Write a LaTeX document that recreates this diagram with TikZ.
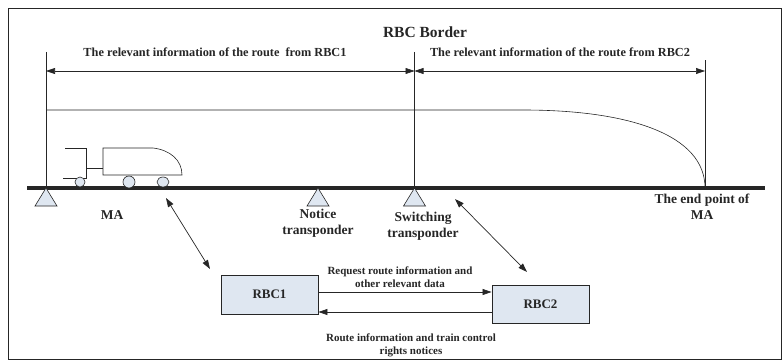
\documentclass[tikz,border=0pt]{standalone}
\usepackage{fontspec}
\setmainfont{Liberation Serif}
\usetikzlibrary{arrows.meta,positioning}

\definecolor{rbcfill}{HTML}{DFE7F1}
\definecolor{ink}{HTML}{262626}

\tikzset{
    lbl/.style={font=\bfseries\fontsize{13.5}{16}\selectfont, text=ink, inner sep=0pt, align=center},
    dimlbl/.style={font=\bfseries\fontsize{12.3}{14}\selectfont, text=ink, inner sep=0pt},
    msglbl/.style={font=\bfseries\fontsize{11}{13}\selectfont, text=ink, inner sep=0pt, align=center},
    rbc/.style={draw=ink, fill=rbcfill, line width=0.9pt, minimum width=97pt, minimum height=39pt,
        inner sep=0pt, font=\bfseries\fontsize{13}{15}\selectfont, text=ink},
    balise/.style={draw=ink, fill=rbcfill, line width=0.6pt},
    tip/.style={Triangle[length=9pt,width=6pt]},
    dim/.style={{Triangle[length=9pt,width=6pt]}-{Triangle[length=9pt,width=6pt]}, line width=0.6pt, draw=ink},
    flow/.style={-{Triangle[length=9pt,width=6pt]}, line width=0.7pt, draw=ink},
    link/.style={{Triangle[length=9pt,width=6pt]}-{Triangle[length=9pt,width=6pt]}, line width=0.7pt, draw=ink},
}

\begin{document}
\begin{tikzpicture}[x=1pt, y=-1pt]
    \useasboundingbox (0,0) rectangle (783,361);
    \draw[ink, line width=1pt] (8,9) rectangle (781,359);

    % track
    \coordinate (trackL) at (27,188);
    \coordinate (trackR) at (765,188);
    \draw[ink, line width=4pt] (trackL) -- (trackR);

    % border lines
    \coordinate (maStart) at (46,52);
    \coordinate (border)  at (414.5,52);
    \coordinate (maEnd)   at (705,60);
    \coordinate (dimrow)  at (0,71);
    \draw[ink, line width=0.6pt] (maStart) -- (maStart |- trackL);
    \draw[ink, line width=0.6pt] (border) -- (border |- trackL);
    \draw[ink, line width=0.6pt] (maEnd) -- (maEnd |- trackL);

    \draw[dim] (maStart |- dimrow) -- (border |- dimrow);
    \draw[dim] (border |- dimrow) -- (maEnd |- dimrow);

    \node[font=\bfseries\fontsize{15.5}{17}\selectfont, text=ink, inner sep=0pt] (rbcborder) at (425,32) {RBC Border};
    \node[dimlbl] (info1) at (215,52) {The relevant information of the route \ from RBC1};
    \node[dimlbl] (info2) at (560,52) {The relevant information of the route from RBC2};

    % braking curve
    \coordinate (curveTop) at (523,110);
    \draw[ink, line width=0.6pt] (maStart |- curveTop) -- (curveTop)
        .. controls (630,110) and (705,135) .. (maEnd |- trackL);

    % train
    \draw[ink, line width=0.6pt] (65,148) -- (86,148) -- (86,178) -- (63,178);
    \draw[ink, line width=0.6pt] (86,168) -- (103,168);
    \draw[ink, line width=0.6pt] (103,148) -- (153,148) .. controls (170,150) and (182,160) .. (182,175)
        -- (103,175) -- cycle;
    \draw[balise] (80,182) circle (5);
    \draw[balise] (129,182) circle (6);
    \draw[balise] (163,182) ellipse (6 and 5);

    % transponders
    \coordinate (b1) at (46,188);
    \coordinate (b2) at (318,188);
    \coordinate (b3) at (414.5,188);
    \foreach \b in {b1,b2,b3}
        \draw[balise] (\b) -- ++(-11,18) -- ++(22,0) -- cycle;

    \node[lbl] (ma) at (112,215) {MA};
    \node[lbl] (notice) at (318,223) {Notice\\transponder};
    \node[lbl] (switching) at (423,226.5) {Switching\\transponder};
    \node[lbl] (endpoint) at (702,207) {The end point of\\MA};

    % RBCs
    \node[rbc] (rbc1) at (269.5,294.5) {RBC1};
    \node[rbc, minimum height=38pt] (rbc2) at (540.5,304) {RBC2};

    \path ([yshift=2.5pt]rbc1.east) coordinate (req);
    \path ([yshift=-8pt]rbc2.west) coordinate (rep);
    \draw[flow] (req) -- (req -| rbc2.west);
    \draw[flow] (rep) -- (rep -| rbc1.east);

    \node[msglbl] (reqlbl) at (400,277) {Request route information and\\other relevant data};
    \node[msglbl] (replbl) at (411,345) {Route information and train control\\rights notices};

    % radio links
    \coordinate (train1) at (166,198);
    \coordinate (rbc1in) at (210,269);
    \coordinate (train2) at (455,199);
    \coordinate (rbc2in) at (527,272);
    \draw[link] (train1) -- (rbc1in);
    \draw[link] (train2) -- (rbc2in);
\end{tikzpicture}
\end{document}
